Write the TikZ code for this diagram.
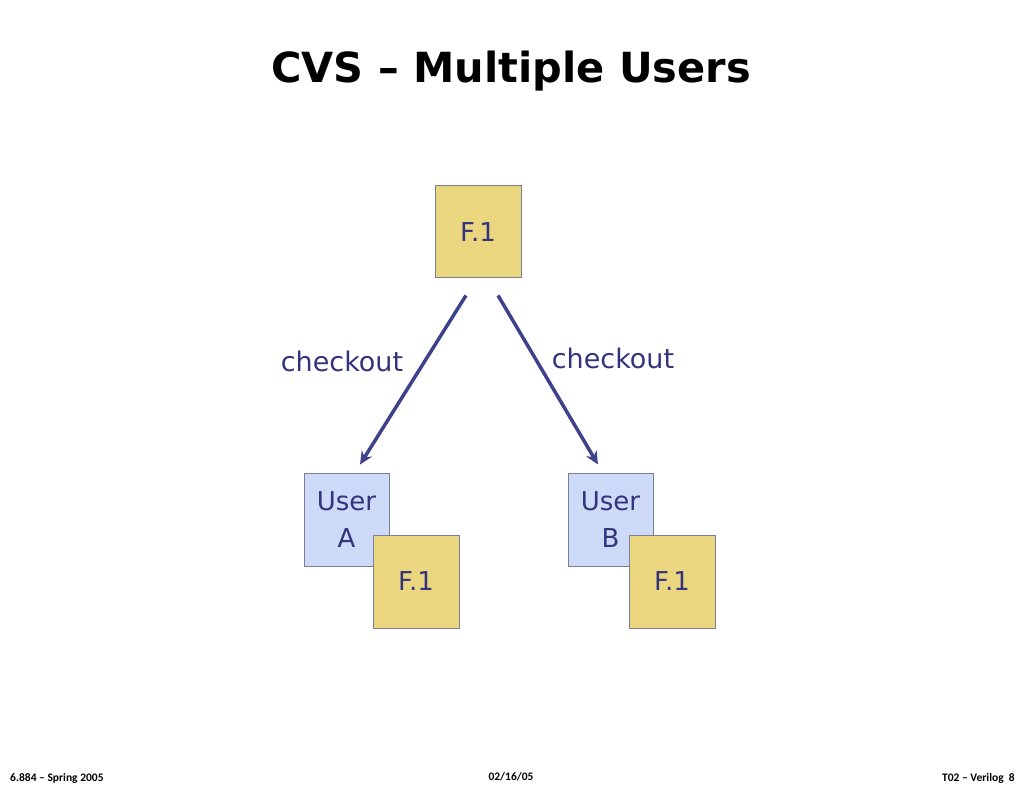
\documentclass[tikz,border=0pt]{standalone}
\usepackage{fontspec}
\setmainfont{DejaVu Sans}
\newfontfamily\footfont{Carlito}
\usetikzlibrary{arrows.meta}

\definecolor{filegold}{RGB}{235,214,128}
\definecolor{userblue}{RGB}{204,217,247}
\definecolor{boxline}{RGB}{125,125,150}
\definecolor{inkblue}{RGB}{52,52,125}
\definecolor{arrowblue}{RGB}{62,66,140}

\begin{document}
\begin{tikzpicture}[
  x=1pt, y=-1pt,
  box/.style={rectangle, draw=boxline, line width=1pt, inner sep=0pt,
    minimum width=86pt, minimum height=93pt, text=inkblue,
    font=\fontsize{26}{37}\selectfont, align=center},
  file/.style={box, fill=filegold},
  user/.style={box, fill=userblue, minimum width=85pt},
  arrow/.style={-{Stealth[length=13pt, width=12pt]}, line width=3.5pt, draw=arrowblue},
  lbl/.style={font=\fontsize{27}{30}\selectfont, text=inkblue, inner sep=0pt},
  foot/.style={font=\footfont\bfseries\fontsize{11.5}{13}\selectfont, inner sep=0pt},
]
\useasboundingbox (0,0) rectangle (1024,791);

% title
\node[font=\bfseries\fontsize{41.5}{48}\selectfont, anchor=base] (title) at (511,83) {CVS – Multiple Users};

% repository copy
\node[file, minimum height=92pt] (repo) at (478,232) {F.1};

% user A with working copy
\node[user] (usera) at (346.5,519.5) {User\\A};
\node[file] (filea) at (416,581.5) {F.1};

% user B with working copy
\node[user] (userb) at (610.5,519.5) {User\\B};
\node[file] (fileb) at (672,581.5) {F.1};

% checkouts
\draw[arrow, shorten <=20pt, shorten >=9.4pt] ([xshift=-1.4pt]repo.south) -- ([xshift=8.5pt]usera.north);
\draw[arrow, shorten <=19.7pt, shorten >=9.3pt] ([xshift=10pt]repo.south) -- ([xshift=-7.8pt]userb.north);

\node[lbl] (cola) at (342,361) {checkout};
\node[lbl] (colb) at (613,358) {checkout};

% footer
\node[foot, anchor=base west] (fleft) at (10,781) {6.884 – Spring 2005};
\node[foot, anchor=base] (fmid) at (511,780) {02/16/05};
\node[foot, anchor=base east] (fright) at (1015,781) {T02 – Verilog\ \ 8};
\end{tikzpicture}
\end{document}
